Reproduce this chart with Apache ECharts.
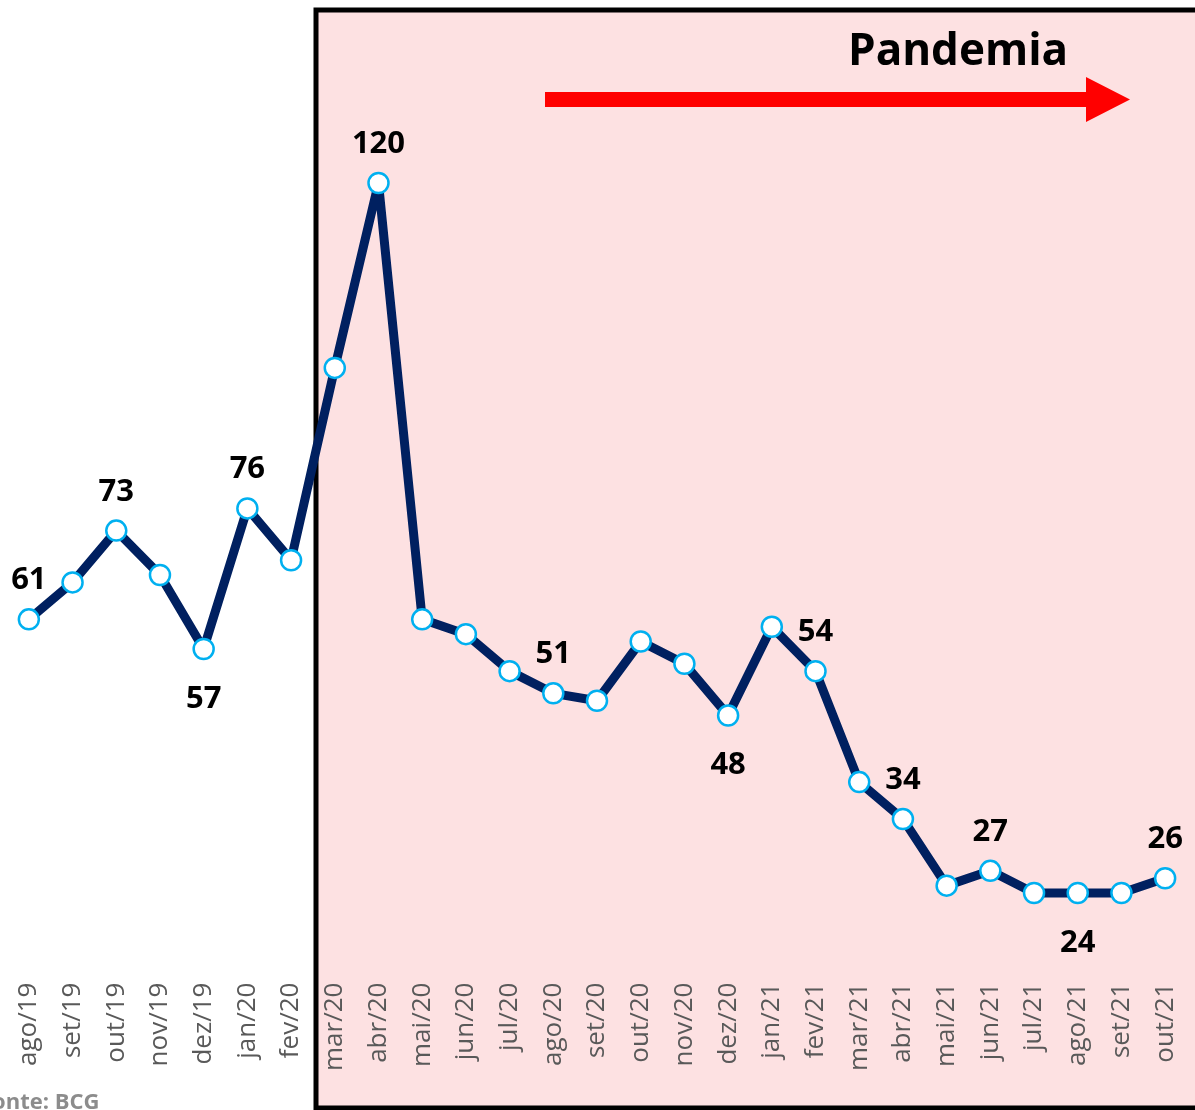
<!DOCTYPE html>
<html>
<head>
<meta charset="utf-8">
<script src="https://cdn.jsdelivr.net/npm/echarts@6/dist/echarts.min.js"></script>
<style>
  html, body { margin: 0; padding: 0; background: #fff; }
  #chart { width: 1195px; height: 1110px; }
</style>
</head>
<body>
<div id="chart"></div>
<script>
// meses (ago/19 a out/21)
const months = ['ago/19', 'set/19', 'out/19', 'nov/19', 'dez/19', 'jan/20', 'fev/20',
  'mar/20', 'abr/20', 'mai/20', 'jun/20', 'jul/20', 'ago/20', 'set/20', 'out/20',
  'nov/20', 'dez/20', 'jan/21', 'fev/21', 'mar/21', 'abr/21', 'mai/21', 'jun/21',
  'jul/21', 'ago/21', 'set/21', 'out/21']
const values = [61, 66, 73, 67, 57, 76, 69, 95, 120, 61, 59, 54, 51, 50, 58,
  55, 48, 60, 54, 39, 34, 25, 27, 24, 24, 24, 26]
// rótulos visíveis
const labelsTop = ['ago/19', 'out/19', 'jan/20', 'abr/20', 'ago/20', 'fev/21', 'abr/21', 'jun/21', 'out/21']
const labelsBottom = ['dez/19', 'dez/20', 'ago/21']

const myChart = echarts.init(document.getElementById('chart'))

const seriesData = values.map((v, i) => {
  const m = months[i]
  if (labelsTop.includes(m)) {
    return { value: v, label: { show: true, position: 'top', distance: 12 } }
  }
  if (labelsBottom.includes(m)) {
    return { value: v, label: { show: true, position: 'bottom', distance: 23 } }
  }
  return v
})

myChart.setOption({
  animation: false,
  grid: {
    left: 7,
    right: 8,
    top: 109,
    bottom: 150.4,
  },
  xAxis: {
    type: 'category',
    data: months,
    boundaryGap: true,
    axisLine: { show: false },
    axisTick: { show: false },
    axisLabel: {
      rotate: 90,
      margin: 23,
      interval: 0,
      color: '#595959',
      fontSize: 26,
      fontFamily: 'Open Sans',
    },
  },
  yAxis: {
    type: 'value',
    min: 15,
    max: 130,
    show: false,
  },
  graphic: [
    {
      type: 'rect',
      z: 0,
      shape: { x: 316, y: 10, width: 884, height: 1098 },
      style: { fill: '#fde1e2', stroke: '#000', lineWidth: 5 },
    },
    {
      type: 'polygon',
      z: 1,
      shape: {
        points: [[545, 92], [1086, 92], [1086, 77], [1130, 99.5], [1086, 122], [1086, 107], [545, 107]],
      },
      style: { fill: '#ff0000' },
    },
    {
      type: 'text',
      z: 1,
      left: 848,
      top: 30,
      style: {
        text: 'Pandemia',
        fill: '#000',
        font: 'bold 44px "Open Sans"',
      },
    },
    {
      type: 'text',
      z: 1,
      left: -20,
      top: 1092,
      style: {
        text: 'Fonte: BCG',
        fill: '#8c8c8c',
        font: 'bold 22px "Open Sans"',
      },
    },
  ],
  series: [
    {
      type: 'line',
      z: 3,
      data: seriesData,
      symbol: 'circle',
      symbolSize: 20,
      lineStyle: { color: '#002060', width: 9 },
      itemStyle: { color: '#fff', borderColor: '#00b0f0', borderWidth: 2.5 },
      label: {
        show: false,
        color: '#000',
        fontSize: 31,
        fontWeight: 'bold',
        fontFamily: 'Open Sans',
      },
    },
  ],
})
</script>
</body>
</html>
